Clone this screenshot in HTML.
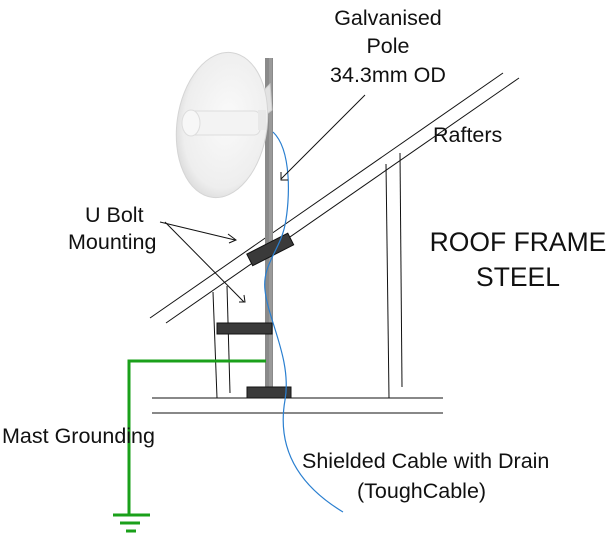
<!DOCTYPE html>
<html><head><meta charset="utf-8"><style>
html,body{margin:0;padding:0;background:#fff;}
svg{display:block;}
text{font-family:"Liberation Sans",sans-serif;fill:#111;}
</style></head><body>
<svg width="614" height="533" viewBox="0 0 614 533" xmlns="http://www.w3.org/2000/svg">
<defs>
<radialGradient id="dish" cx="0.55" cy="0.45" r="0.6">
<stop offset="0" stop-color="#fafafa"/><stop offset="0.8" stop-color="#eeeeee"/><stop offset="1" stop-color="#d8d8d8"/>
</radialGradient>
</defs>
<line x1="150" y1="318" x2="503" y2="73" stroke="#111" stroke-width="1"/>
<line x1="166" y1="323" x2="519" y2="78" stroke="#111" stroke-width="1"/>
<line x1="213" y1="292" x2="217" y2="398" stroke="#111"/>
<line x1="227" y1="286" x2="230" y2="393" stroke="#111"/>
<line x1="386" y1="164" x2="389" y2="398" stroke="#111"/>
<line x1="400" y1="153" x2="402" y2="387" stroke="#111"/>
<line x1="152" y1="398" x2="443" y2="398" stroke="#111"/>
<line x1="152" y1="413" x2="443" y2="413" stroke="#111"/>
<rect x="265" y="58" width="8" height="330" fill="#8a8a8a"/>
<rect x="269" y="58" width="3" height="330" fill="#9a9a9a"/>
<path d="M262 92 L270 84 L272 110 L262 118 Z" fill="#e2e2e2" stroke="#ccc"/>
<ellipse cx="222" cy="125" rx="45" ry="73" fill="url(#dish)" stroke="#d5d5d5" transform="rotate(8 222 125)"/>
<rect x="188" y="111" width="72" height="24" rx="6" fill="#f3f3f3" stroke="#ddd"/>
<ellipse cx="191" cy="123" rx="9" ry="13" fill="#f7f7f7" stroke="#ddd"/>
<rect x="258" y="110" width="8" height="20" fill="#e8e8e8"/>
<rect x="247" y="243" width="46" height="13" fill="#3a3a3a" stroke="#111" transform="rotate(-27 270 249)"/>
<rect x="217" y="323" width="55" height="11" fill="#3a3a3a" stroke="#111"/>
<rect x="247" y="387" width="44" height="11" fill="#3a3a3a" stroke="#111"/>
<path d="M273 132 C292 150 290 200 285 225 C280 250 262 265 265 290 C268 320 292 360 285 400 C278 440 290 480 343 512" fill="none" stroke="#2a7fd0" stroke-width="1.2"/>
<polyline points="266,361 129,361 129,514" fill="none" stroke="#1aa01a" stroke-width="3"/>
<line x1="113" y1="515" x2="150" y2="515" stroke="#1aa01a" stroke-width="3"/>
<line x1="120" y1="523" x2="140" y2="523" stroke="#1aa01a" stroke-width="3"/>
<line x1="126" y1="531" x2="136" y2="531" stroke="#1aa01a" stroke-width="3"/>
<line x1="365" y1="95" x2="281" y2="179" stroke="#111"/>
<polyline points="281,172 281,180 288,180" fill="none" stroke="#111"/>
<line x1="160" y1="222" x2="235" y2="240" stroke="#111"/>
<polyline points="228,234 236,240 229,243" fill="none" stroke="#111"/>
<line x1="165" y1="222" x2="244" y2="302" stroke="#111"/>
<polyline points="239,302 245,302 244,295" fill="none" stroke="#111"/>
<text x="388" y="25" font-size="21.5" text-anchor="middle">Galvanised</text>
<text x="388" y="53" font-size="21.5" text-anchor="middle">Pole</text>
<text x="388" y="82" font-size="21.5" text-anchor="middle">34.3mm OD</text>
<text x="433" y="142" font-size="21.5">Rafters</text>
<text x="518" y="251" font-size="26.5" text-anchor="middle">ROOF FRAME</text>
<text x="518" y="286" font-size="26.5" text-anchor="middle">STEEL</text>
<text x="85" y="222" font-size="21.5">U Bolt</text>
<text x="68" y="249" font-size="21.5">Mounting</text>
<text x="2" y="443" font-size="21.5">Mast Grounding</text>
<text x="302" y="468" font-size="21.5">Shielded Cable with Drain</text>
<text x="357" y="498" font-size="21.5">(ToughCable)</text>
</svg>
</body></html>
